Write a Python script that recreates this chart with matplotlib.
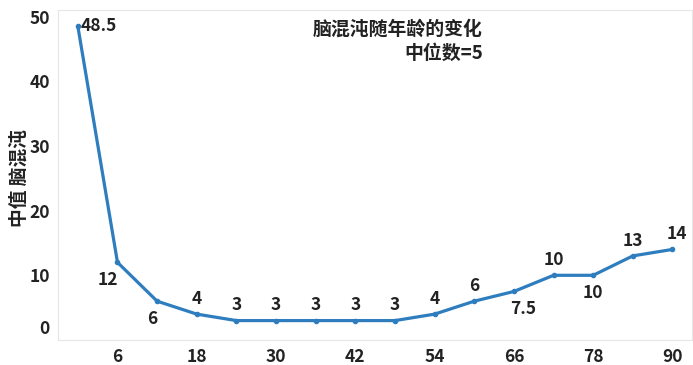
import matplotlib
matplotlib.use("Agg")
import matplotlib.pyplot as plt
from matplotlib.transforms import ScaledTranslation

plt.rcParams['font.family'] = ['Noto Sans CJK SC', 'DejaVu Sans']

ages = [0, 6, 12, 18, 24, 30, 36, 42, 48, 54, 60, 66, 72, 78, 84, 90]
median_chaos = [48.5, 12, 6, 4, 3, 3, 3, 3, 3, 4, 6, 7.5, 10, 10, 13, 14]
value_labels = ["48.5", "12", "6", "4", "3", "3", "3", "3", "3", "4", "6", "7.5", "10", "10", "13", "14"]
x_ticks = [6, 18, 30, 42, 54, 66, 78, 90]
y_ticks = [0, 10, 20, 30, 40, 50]
title_text = "脑混沌随年龄的变化\n中位数=5"
y_label = "中值 脑混沌"

# label placement (pixel offsets) per point
offsets = [(3, 0), (-10, -18), (-5, -18), (0, 15), (0, 16), (0, 16), (0, 16), (0, 16), (0, 16),
           (0, 15), (0, 15), (9, -18), (0, 15), (0, -18), (0, 15), (4, 15)]

fig = plt.figure(figsize=(6.93, 3.65), dpi=100)
ax = fig.add_axes([0.0837, 0.0685, 0.9153, 0.904])

line_color = '#2E7DBE'
ax.plot(ages, median_chaos, color=line_color, lw=2.3, marker='o', ms=3, solid_capstyle='round')

for x, y, lab, (dx, dy) in zip(ages, median_chaos, value_labels, offsets):
    ha = 'left' if dx == 3 else 'center'
    ax.annotate(lab, (x, y), xytext=(dx * 0.72, dy * 0.72), textcoords='offset points',
                ha=ha, va='center', fontsize=12.5, fontweight='bold', color='#222222')

ax.set_xlim(-3, 93)
ax.set_ylim(0, 51)
ax.set_xticks(x_ticks)
ax.set_yticks(y_ticks)
ax.tick_params(length=0, labelsize=12.5, pad=6, colors='#222222')
for lab in ax.get_xticklabels() + ax.get_yticklabels():
    lab.set_fontweight('bold')
# raise the "0" tick label like the reference
ylabs = ax.get_yticklabels()
ylabs[0].set_transform(ylabs[0].get_transform() + ScaledTranslation(0, 13 / 100, fig.dpi_scale_trans))

for s in ax.spines.values():
    s.set_color('#e6e6e6')
    s.set_linewidth(0.8)

ax.set_ylabel(y_label, fontsize=13.5, fontweight='bold', color='#222222', labelpad=4)
ax.yaxis.set_label_coords(-0.046, 0.49)

fig.text(483 / 693, 1 - 20 / 365, title_text, ha='right', va='top', fontsize=13.6,
         fontweight='bold', color='#222222', multialignment='right', linespacing=1.3)

fig.savefig('out.png', dpi=100)
